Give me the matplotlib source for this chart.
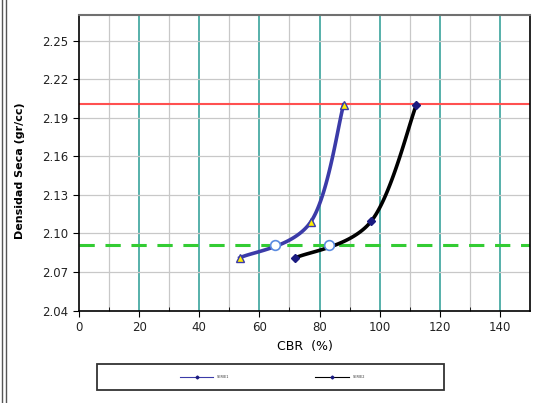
import numpy as np
import matplotlib
matplotlib.use("Agg")
import matplotlib.pyplot as plt
from matplotlib.lines import Line2D
from matplotlib.patches import Rectangle

# Data
cbr_a = [53.5, 77.1, 88.0]
dens_a = [2.081, 2.109, 2.200]
cbr_b = [72.0, 97.2, 112.2]
dens_b = [2.081, 2.1095, 2.200]
max_dens = 2.201
dens_95 = 2.091
cbr95_a = 65.1
cbr95_b = 83.2
xticks = [0, 20, 40, 60, 80, 100, 120, 140]
yticks = [2.04, 2.07, 2.10, 2.13, 2.16, 2.19, 2.22, 2.25]
legend_labels = ["SERIE1", "SERIE2"]

XLIM = (0, 150)
YLIM = (2.04, 2.27)

fig = plt.figure(figsize=(5.44, 4.03), dpi=100)
ax = fig.add_axes([0.1452, 0.2295, 0.829, 0.7333])
ax.set_xlim(*XLIM)
ax.set_ylim(*YLIM)

W_PX, H_PX = 451.0, 295.5


def smooth(xs, ys, n=60):
    # Excel-like bezier smoothing in pixel space
    px = np.array(xs) / (XLIM[1] - XLIM[0]) * W_PX
    py = (np.array(ys) - YLIM[0]) / (YLIM[1] - YLIM[0]) * H_PX
    P = np.column_stack([px, py])
    m = len(P)
    out = []
    for i in range(m - 1):
        p0 = P[i - 1] if i > 0 else P[i]
        p1 = P[i]
        p2 = P[i + 1]
        p3 = P[i + 2] if i + 2 < m else P[i + 1]
        c1 = p1 + (p2 - p0) / 6.0
        c2 = p2 - (p3 - p1) / 6.0
        t = np.linspace(0, 1, n)[:, None]
        seg = ((1 - t) ** 3) * p1 + 3 * ((1 - t) ** 2) * t * c1 + 3 * (1 - t) * t ** 2 * c2 + t ** 3 * p2
        out.append(seg if i == 0 else seg[1:])
    out = np.vstack(out)
    x = out[:, 0] / W_PX * (XLIM[1] - XLIM[0])
    y = out[:, 1] / H_PX * (YLIM[1] - YLIM[0]) + YLIM[0]
    return x, y


# grid
for xv in np.arange(10, 150, 20):
    ax.axvline(xv, color="#c8c8c8", lw=0.9, zorder=1)
for xv in xticks[1:]:
    ax.axvline(xv, color="#3aa39c", lw=1.2, zorder=1)
for yv in yticks[1:]:
    ax.axhline(yv, color="#c8c8c8", lw=0.9, zorder=1)

ax.axhline(max_dens, color="#ff5050", lw=1.5, zorder=2)
ax.axhline(dens_95, color="#33cc33", lw=2.2, ls=(0, (5, 3.5)), zorder=2)

xa, ya = smooth(cbr_a, dens_a)
ax.plot(xa, ya, color="#3b3ba8", lw=2.6, zorder=3)
ax.plot(cbr_a, dens_a, ls="none", marker="^", ms=5.5, mfc="#ffee00", mec="#3b3ba8", mew=1, zorder=4)

xb, yb = smooth(cbr_b, dens_b)
ax.plot(xb, yb, color="black", lw=2.6, zorder=3)
ax.plot(cbr_b, dens_b, ls="none", marker="D", ms=4, mfc="#1a1a80", mec="#1a1a80", zorder=4)

ax.plot([cbr95_a, cbr95_b], [dens_95, dens_95], ls="none", marker="o", ms=7,
        mfc="white", mec="#5b8be0", mew=1.2, zorder=5)

ax.set_xticks(xticks)
ax.set_xticks(np.arange(10, 150, 20), minor=True)
ax.set_yticks(yticks)
ax.set_yticklabels([f"{v:.2f}" for v in yticks])
ax.tick_params(axis="both", which="major", direction="out", length=4, labelsize=8.5,
               colors="black", labelcolor="#222222")
ax.tick_params(axis="x", which="minor", direction="in", length=3)

for s in ["left", "bottom", "right"]:
    ax.spines[s].set_color("black")
    ax.spines[s].set_linewidth(1.2)
ax.spines["top"].set_color("#707070")
ax.spines["top"].set_linewidth(1.5)

ax.set_xlabel("CBR  (%)", fontsize=9, va="center")
ax.xaxis.set_label_coords(0.5, -(346 - 310.5) / 295.5)
ax.set_ylabel("Densidad Seca (gr/cc)", fontsize=8, fontweight="bold", va="center")
ax.yaxis.set_label_coords((20 - 79) / 451.0, (310.5 - 171) / 295.5)

# outer double border on left
fig.add_artist(Line2D([1.5 / 544, 1.5 / 544], [0, 1], color="#555555", lw=1))
fig.add_artist(Line2D([5.5 / 544, 5.5 / 544], [0, 1], color="#555555", lw=1))

# legend box
lx0, lx1 = 97 / 544, 444 / 544
ly0, ly1 = 1 - 390 / 403, 1 - 364 / 403
fig.add_artist(Rectangle((lx0, ly0), lx1 - lx0, ly1 - ly0, transform=fig.transFigure,
                         fill=False, ec="#333333", lw=1.3))
ymid = 1 - 377 / 403
for (x0, x1, col, lab) in [(180, 213, "#3b3ba8", legend_labels[0]), (315, 349, "black", legend_labels[1])]:
    fig.add_artist(Line2D([x0 / 544, x1 / 544], [ymid, ymid], color=col, lw=0.8))
    fig.add_artist(Line2D([(x0 + x1) / 2 / 544], [ymid], color="#1a1a80", marker="D", ms=1.5, ls="none"))
    fig.text((x1 + 4) / 544, ymid, lab, fontsize=2.5, va="center", ha="left", color="#333333")

fig.savefig("out.png", dpi=100)
